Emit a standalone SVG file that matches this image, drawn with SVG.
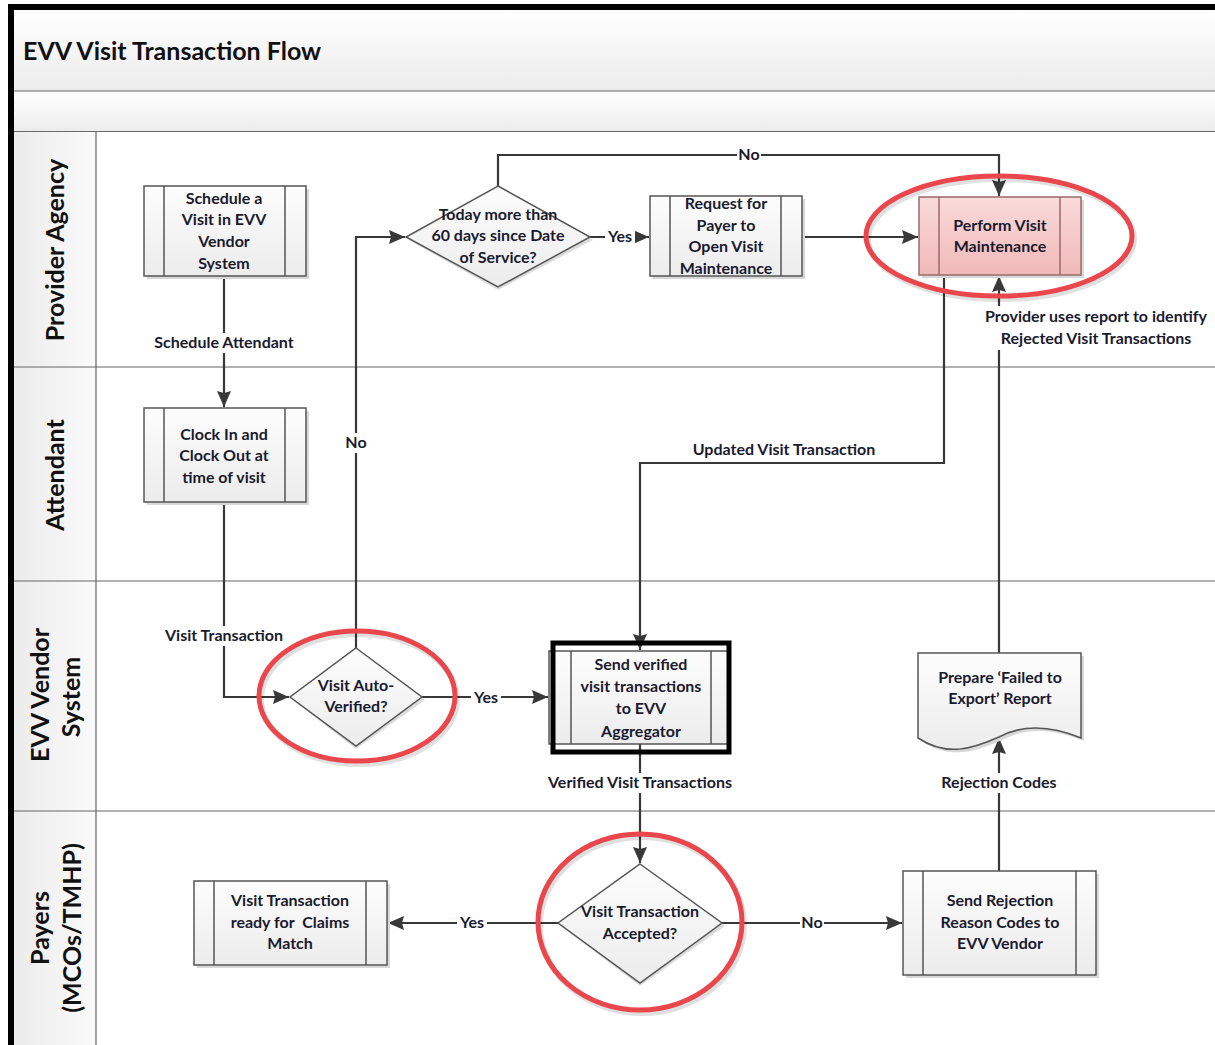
<svg xmlns="http://www.w3.org/2000/svg" width="1215" height="1045" viewBox="0 0 1215 1045">
<defs>
<linearGradient id="gV" x1="0" y1="0" x2="0" y2="1"><stop offset="0" stop-color="#ffffff"/><stop offset="1" stop-color="#ececec"/></linearGradient>
<linearGradient id="gH" x1="0" y1="0" x2="1" y2="0"><stop offset="0" stop-color="#ececec"/><stop offset="1" stop-color="#fafafa"/></linearGradient>
<linearGradient id="gBox" x1="0" y1="0" x2="0" y2="1"><stop offset="0" stop-color="#fdfdfd"/><stop offset="1" stop-color="#ececec"/></linearGradient>
<linearGradient id="gPink" x1="0" y1="0" x2="0" y2="1"><stop offset="0" stop-color="#fadada"/><stop offset="1" stop-color="#f1b9b9"/></linearGradient>
<marker id="arr" viewBox="0 0 16 14" refX="16" refY="7" markerWidth="16" markerHeight="14" markerUnits="userSpaceOnUse" orient="auto">
<path d="M0,0 L16,7 L0,14 L2,7 Z" fill="#383838"/>
</marker>
<style>
.lane{stroke:#666;stroke-width:1.2;fill:none}
.box{fill:url(#gBox);stroke:#555;stroke-width:1.5}
.sh{fill:#d8d8d8}
.inner{stroke:#555;stroke-width:1.5}
.t{font-family:Lato,"Open Sans","Liberation Sans",sans-serif;font-weight:bold;font-size:16px;fill:#1a1a2e;text-anchor:middle}
.lt{font-family:Lato,"Open Sans","Liberation Sans",sans-serif;font-weight:bold;font-size:25px;fill:#111;text-anchor:middle}
.ca{stroke:#383838;stroke-width:2.2;fill:none;marker-end:url(#arr)}
.bg{fill:#ffffff}
.red{fill:none;stroke:#ea474d;stroke-width:5}
.redsh{fill:none;stroke:#000;stroke-opacity:0.12;stroke-width:6}
</style>
</defs>
<rect x="0" y="0" width="1215" height="1045" fill="#ffffff"/>
<g id="frame">
<rect x="14" y="10" width="1201" height="81" fill="url(#gV)"/>
<rect x="14" y="92" width="1201" height="39" fill="url(#gV)"/>
<rect x="14" y="132" width="82" height="913" fill="url(#gH)"/>
<line class="lane" x1="14" y1="91" x2="1215" y2="91" stroke-width="1.5"/>
<line class="lane" x1="14" y1="131.5" x2="1215" y2="131.5" stroke-width="2" stroke="#888"/>
<line class="lane" x1="96" y1="132" x2="96" y2="1045"/>
<line class="lane" x1="14" y1="367" x2="1215" y2="367"/>
<line class="lane" x1="14" y1="581" x2="1215" y2="581"/>
<line class="lane" x1="14" y1="811" x2="1215" y2="811"/>
<rect x="8" y="4" width="1207" height="6" fill="#000"/>
<rect x="8" y="4" width="6" height="1041" fill="#000"/>
<text x="23" y="60" font-family="Lato,'Open Sans','Liberation Sans',sans-serif" font-weight="bold" font-size="25" fill="#111">EVV Visit Transaction Flow</text>
</g>
<g id="lane-labels">
<text class="lt" transform="translate(64,250) rotate(-90)">Provider Agency</text>
<text class="lt" transform="translate(64,475) rotate(-90)">Attendant</text>
<text class="lt" transform="translate(49,695) rotate(-90)">EVV Vendor</text>
<text class="lt" transform="translate(80,697) rotate(-90)">System</text>
<text class="lt" transform="translate(49,928) rotate(-90)">Payers</text>
<text class="lt" transform="translate(81,928) rotate(-90)">(MCOs/TMHP)</text>
</g>
<g id="connectors">
<line class="ca" x1="224" y1="277" x2="224" y2="407"/>
<polyline class="ca" points="224,503 224,697 289,697"/>
<polyline class="ca" points="356,648 356,237 405,237"/>
<line class="ca" x1="422" y1="697" x2="548" y2="697"/>
<line class="ca" x1="590" y1="237" x2="649" y2="237"/>
<polyline class="ca" points="498,186 498,155 999,155 999,196"/>
<line class="ca" x1="802" y1="237" x2="918" y2="237"/>
<polyline class="ca" points="944,275 944,463 640,463 640,650"/>
<line class="ca" x1="640" y1="744" x2="640" y2="863"/>
<line class="ca" x1="558" y1="923" x2="388" y2="923"/>
<line class="ca" x1="722" y1="923" x2="902" y2="923"/>
<line class="ca" x1="999" y1="871" x2="999" y2="738"/>
<line class="ca" x1="999" y1="653" x2="999" y2="276"/>
<rect class="bg" x="146" y="333" width="157" height="20"/>
<text class="t" x="224" y="348">Schedule Attendant</text>
<rect class="bg" x="158" y="626" width="132" height="20"/>
<text class="t" x="224" y="641">Visit Transaction</text>
<rect class="bg" x="344" y="433" width="24" height="20"/>
<text class="t" x="356" y="448">No</text>
<rect class="bg" x="471" y="688" width="30" height="20"/>
<text class="t" x="486" y="703">Yes</text>
<rect class="bg" x="605" y="227" width="30" height="20"/>
<text class="t" x="620" y="242">Yes</text>
<rect class="bg" x="737" y="145" width="24" height="20"/>
<text class="t" x="749" y="160">No</text>
<text class="t" x="784" y="455">Updated Visit Transaction</text>
<rect class="bg" x="538" y="773" width="204" height="20"/>
<text class="t" x="640" y="788">Verified Visit Transactions</text>
<rect class="bg" x="457" y="913" width="30" height="20"/>
<text class="t" x="472" y="928">Yes</text>
<rect class="bg" x="800" y="913" width="24" height="20"/>
<text class="t" x="812" y="928">No</text>
<rect class="bg" x="935" y="773" width="128" height="20"/>
<text class="t" x="999" y="788">Rejection Codes</text>
<rect class="bg" x="977" y="306" width="238" height="44"/>
<text class="t" x="1096" y="322">Provider uses report to identify</text>
<text class="t" x="1096" y="344">Rejected Visit Transactions</text>
</g>
<g id="n-schedule">
<rect class="sh" x="147" y="189" width="162" height="90"/>
<rect class="box" x="144" y="186" width="162" height="90"/>
<line class="inner" x1="164" y1="186" x2="164" y2="276"/><line class="inner" x1="285" y1="186" x2="285" y2="276"/>
<text class="t" x="224" y="204">Schedule a</text><text class="t" x="224" y="225">Visit in EVV</text><text class="t" x="224" y="247">Vendor</text><text class="t" x="224" y="269">System</text>
</g>
<g id="n-clock">
<rect class="sh" x="147" y="411" width="162" height="94"/>
<rect class="box" x="144" y="408" width="162" height="94"/>
<line class="inner" x1="164" y1="408" x2="164" y2="502"/><line class="inner" x1="285" y1="408" x2="285" y2="502"/>
<text class="t" x="224" y="440">Clock In and</text><text class="t" x="224" y="461">Clock Out at</text><text class="t" x="224" y="483">time of visit</text>
</g>
<g id="n-today">
<polygon points="498,189 593,240 498,290 409,240" fill="#dcdcdc"/>
<polygon class="box" points="498,186 590,237 498,287 406,237" stroke-width="1.2"/>
<text class="t" x="498" y="220">Today more than</text><text class="t" x="498" y="241">60 days since Date</text><text class="t" x="498" y="263">of Service?</text>
</g>
<g id="n-request">
<rect class="sh" x="653" y="199" width="152" height="80"/>
<rect class="box" x="650" y="196" width="152" height="80"/>
<line class="inner" x1="670" y1="196" x2="670" y2="276"/><line class="inner" x1="781" y1="196" x2="781" y2="276"/>
<text class="t" x="726" y="209">Request for</text><text class="t" x="726" y="231">Payer to</text><text class="t" x="726" y="252">Open Visit</text><text class="t" x="726" y="274">Maintenance</text>
</g>
<g id="n-perform">
<rect class="sh" x="922" y="200" width="162" height="78"/>
<rect x="919" y="197" width="162" height="78" fill="url(#gPink)" stroke="#9a6a6a" stroke-width="1.5"/>
<line x1="939" y1="197" x2="939" y2="275" stroke="#9a6a6a" stroke-width="1.5"/><line x1="1060" y1="197" x2="1060" y2="275" stroke="#9a6a6a" stroke-width="1.5"/>
<text class="t" x="1000" y="231" fill="#3a2840">Perform Visit</text><text class="t" x="1000" y="252" fill="#3a2840">Maintenance</text>
<ellipse class="redsh" cx="1001" cy="239" rx="133" ry="60"/>
<ellipse class="red" cx="999" cy="236" rx="133" ry="60"/>
</g>
<g id="n-auto">
<polygon points="356,651 425,700 356,749 293,700" fill="#dcdcdc"/>
<polygon class="box" points="356,648 422,697 356,746 290,697" stroke-width="1.2"/>
<text class="t" x="356" y="691">Visit Auto-</text><text class="t" x="356" y="712">Verified?</text>
<ellipse class="redsh" cx="359" cy="699" rx="98" ry="65"/>
<ellipse class="red" cx="357" cy="696" rx="98" ry="65"/>
</g>
<g id="n-send">
<rect class="box" x="549" y="651" width="179" height="93"/>
<line class="inner" x1="571" y1="651" x2="571" y2="744" stroke-width="1"/><line class="inner" x1="711" y1="651" x2="711" y2="744" stroke-width="1"/>
<rect x="553" y="643" width="176" height="109" fill="none" stroke="#000" stroke-width="5"/>
<text class="t" x="641" y="670" fill="#000" font-size="17">Send verified</text><text class="t" x="641" y="692" fill="#000" font-size="17">visit transactions</text><text class="t" x="641" y="714" fill="#000" font-size="17">to EVV</text><text class="t" x="641" y="737" fill="#000" font-size="17">Aggregator</text>
</g>
<g id="n-prepare">
<path d="M921,656 H1084 V741 C1060,731 1030,725 1002,740 C975,752 950,760 921,741 Z" fill="#d8d8d8"/>
<path class="box" d="M918,653 H1081 V738 C1057,728 1027,722 999,737 C972,749 947,757 918,738 Z"/>
<text class="t" x="1000" y="683">Prepare ‘Failed to</text><text class="t" x="1000" y="704">Export’ Report</text>
</g>
<g id="n-claims">
<rect class="sh" x="197" y="884" width="193" height="84"/>
<rect class="box" x="194" y="881" width="193" height="84"/>
<line class="inner" x1="214" y1="881" x2="214" y2="965"/><line class="inner" x1="366" y1="881" x2="366" y2="965"/>
<text class="t" x="290" y="906">Visit Transaction</text><text class="t" x="290" y="928" xml:space="preserve">ready for  Claims</text><text class="t" x="290" y="949">Match</text>
</g>
<g id="n-accepted">
<polygon points="640,867 725,926 640,986 561,926" fill="#dcdcdc"/>
<polygon class="box" points="640,864 722,923 640,983 558,923" stroke-width="1.2"/>
<text class="t" x="640" y="917">Visit Transaction</text><text class="t" x="640" y="939">Accepted?</text>
<ellipse class="redsh" cx="642" cy="925" rx="102" ry="88"/>
<ellipse class="red" cx="640" cy="922" rx="102" ry="88"/>
</g>
<g id="n-reject">
<rect class="sh" x="906" y="874" width="193" height="104"/>
<rect class="box" x="903" y="871" width="193" height="104"/>
<line class="inner" x1="923" y1="871" x2="923" y2="975"/><line class="inner" x1="1076" y1="871" x2="1076" y2="975"/>
<text class="t" x="1000" y="906">Send Rejection</text><text class="t" x="1000" y="928">Reason Codes to</text><text class="t" x="1000" y="949">EVV Vendor</text>
</g>
</svg>
